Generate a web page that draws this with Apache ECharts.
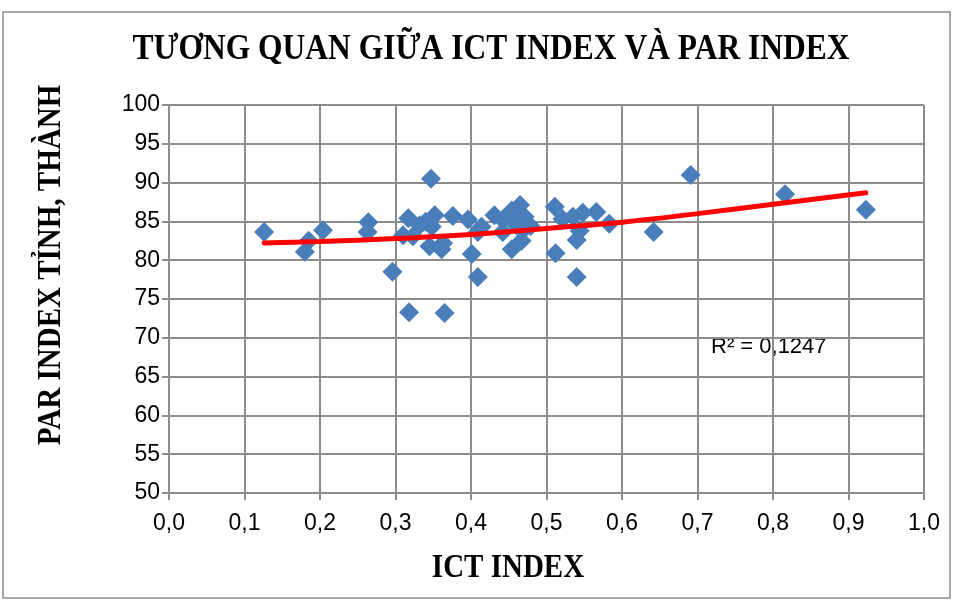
<!DOCTYPE html>
<html>
<head>
<meta charset="utf-8">
<title>Tương quan giữa ICT Index và PAR Index</title>
<script src="https://cdn.jsdelivr.net/npm/echarts@6/dist/echarts.min.js"></script>
<style>
  html, body { margin: 0; padding: 0; background: #fff; }
  #chart { width: 955px; height: 601px; }
</style>
</head>
<body>
<div id="chart"></div>
<script>
// dữ liệu: ICT index (trục x) và PAR index (trục y)
const ictIndex = [
  0.126, 0.180, 0.185, 0.204, 0.264, 0.263, 0.296, 0.347, 0.317, 0.310,
  0.323, 0.332, 0.340, 0.352, 0.348, 0.345, 0.361, 0.363, 0.318, 0.365,
  0.376, 0.396, 0.401, 0.409, 0.414, 0.409, 0.431, 0.442, 0.442, 0.454,
  0.465, 0.460, 0.454, 0.467, 0.479, 0.469, 0.471, 0.460, 0.511, 0.512,
  0.521, 0.540, 0.540, 0.548, 0.544, 0.535, 0.566, 0.583, 0.642, 0.691,
  0.816, 0.923
]
const parIndex = [
  83.65, 81.1, 82.5, 83.85, 84.9, 83.65, 78.5, 90.5, 85.4, 83.2,
  83.1, 84.5, 84.95, 85.8, 84.3, 81.8, 81.4, 82.2, 73.3, 73.2,
  85.7, 85.25, 80.8, 77.85, 84.3, 83.65, 85.8, 85.2, 83.65, 86.4,
  87.1, 85.2, 81.4, 82.5, 84.4, 83.9, 85.6, 84.5, 86.9, 80.9,
  85.3, 82.6, 77.85, 86.1, 83.8, 85.6, 86.2, 84.7, 83.65, 90.97,
  88.5, 86.5
]

// đường xu hướng (đa thức bậc 2 của Excel), đọc theo các điểm trên hình
const trendX = [0.126, 0.2, 0.3, 0.4, 0.5, 0.6, 0.7, 0.8, 0.923]
const trendY = [82.23, 82.4, 82.8, 83.3, 84.1, 84.9, 86.0, 87.2, 88.7]

const xTicks = [0, 0.1, 0.2, 0.3, 0.4, 0.5, 0.6, 0.7, 0.8, 0.9, 1.0]
const yTicks = [50, 55, 60, 65, 70, 75, 80, 85, 90, 95, 100]

const chartTitle = 'TƯƠNG QUAN GIỮA ICT INDEX VÀ PAR INDEX'
const xName = 'ICT INDEX'
const yName = 'PAR INDEX TỈNH, THÀNH'
const r2Label = 'R² = 0,1247'

const gridColor = '#8c8c8c'
const serifFont = '"Liberation Serif", "DejaVu Serif", serif'
const sansFont = '"Liberation Sans", Arial, sans-serif'

const chart = echarts.init(document.getElementById('chart'), null, { renderer: 'canvas' })

const scatterData = ictIndex.map((x, i) => [x, parIndex[i]])
const trendData = trendX.map((x, i) => [x, trendY[i]])

const option = {
  backgroundColor: '#fff',
  animation: false,
  grid: {
    left: 169,
    top: 105,
    width: 755,
    height: 388
  },
  xAxis: {
    type: 'value',
    min: xTicks[0],
    max: xTicks[xTicks.length - 1],
    interval: 0.1,
    axisLine: { show: true, onZero: false, lineStyle: { color: gridColor, width: 2 } },
    axisTick: { show: true, length: 7, lineStyle: { color: gridColor, width: 2 } },
    splitLine: { show: true, lineStyle: { color: gridColor, width: 2 } },
    axisLabel: {
      margin: 19,
      fontSize: 23,
      fontFamily: sansFont,
      color: '#000',
      formatter: (v) => v.toFixed(1).replace('.', ',')
    }
  },
  yAxis: {
    type: 'value',
    min: yTicks[0],
    max: yTicks[yTicks.length - 1],
    interval: 5,
    axisLine: { show: true, onZero: false, lineStyle: { color: gridColor, width: 2 } },
    axisTick: { show: true, length: 7, lineStyle: { color: gridColor, width: 2 } },
    splitLine: { show: true, lineStyle: { color: gridColor, width: 2 } },
    axisLabel: {
      margin: 9,
      fontSize: 23,
      fontFamily: sansFont,
      color: '#000'
    }
  },
  series: [
    {
      name: 'PAR',
      type: 'scatter',
      symbol: 'diamond',
      symbolSize: [20, 20],
      itemStyle: { color: '#4a7ebb', opacity: 1 },
      data: scatterData,
      z: 2
    },
    {
      name: 'Xu hướng',
      type: 'line',
      smooth: 0.4,
      showSymbol: false,
      lineStyle: { color: '#ff0000', width: 5, cap: 'round' },
      data: trendData,
      z: 3
    }
  ],
  graphic: [
    {
      // khung viền ngoài của biểu đồ
      type: 'rect',
      shape: { x: 3, y: 12, width: 947, height: 586 },
      style: { fill: null, stroke: '#8c8c8c', lineWidth: 1.5 },
      silent: true
    },
    {
      // tiêu đề: chữ hơi cao hơn như trong hình gốc
      type: 'text',
      x: 491,
      y: 50,
      scaleY: 1.15,
      style: {
        text: chartTitle,
        textAlign: 'center',
        textVerticalAlign: 'middle',
        font: 'bold 31.5px ' + serifFont,
        fill: '#000'
      }
    },
    {
      type: 'text',
      x: 508,
      y: 568,
      scaleY: 1.15,
      style: {
        text: xName,
        textAlign: 'center',
        textVerticalAlign: 'middle',
        font: 'bold 29px ' + serifFont,
        fill: '#000'
      }
    },
    {
      type: 'text',
      x: 51,
      y: 265,
      rotation: Math.PI / 2,
      scaleY: 1.15,
      style: {
        text: yName,
        textAlign: 'center',
        textVerticalAlign: 'middle',
        font: 'bold 29px ' + serifFont,
        fill: '#000'
      }
    },
    {
      type: 'text',
      x: 711,
      y: 347,
      style: {
        text: r2Label,
        textAlign: 'left',
        textVerticalAlign: 'middle',
        font: '22px ' + sansFont,
        fill: '#000'
      }
    }
  ]
}

chart.setOption(option)
</script>
</body>
</html>
